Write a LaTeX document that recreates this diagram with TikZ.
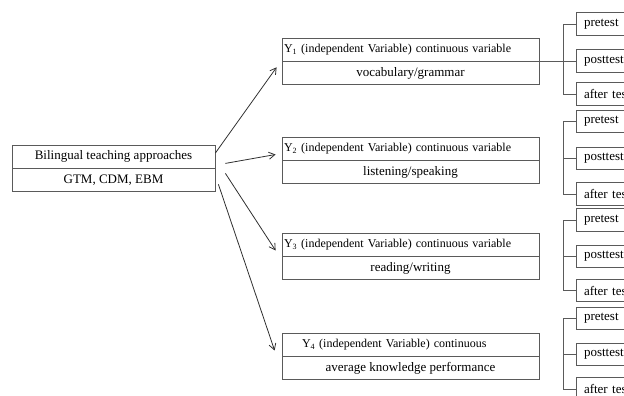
\documentclass[tikz,border=0pt]{standalone}
\usepackage{fontspec}
\setmainfont{Liberation Serif}
\usetikzlibrary{positioning,arrows.meta}
\definecolor{boxgray}{HTML}{5A5A5A}
\definecolor{arrowgray}{HTML}{303030}
\tikzset{
  part/.style={draw=boxgray, line width=0.8pt, inner sep=0pt, minimum height=23pt,
    font=\fontsize{13}{15}\selectfont},
  lpart/.style={part, minimum width=203pt},
  ypart/.style={part, minimum width=257pt},
  yhead/.style={ypart, text width=253pt, inner xsep=2pt, align=left,
    font=\fontsize{12}{14}\selectfont},
  testbox/.style={part, text width=54pt, inner xsep=8pt, align=left, minimum height=22.5pt},
  arr/.style={-{Straight Barb[length=6pt,width=7pt]}, line width=0.8pt, draw=arrowgray},
  brace/.style={draw=boxgray, line width=0.8pt},
}
\begin{document}
\begin{tikzpicture}[x=1pt, y=-1pt]
        \useasboundingbox (0,0) rectangle (624,396);
        \clip (0,0) rectangle (624,396);
        % the approaches box
        \node[lpart] (lbtop) at (113.5,156.5) {Bilingual teaching approaches};
        \node[lpart, below=0pt of lbtop] (lbbot) {GTM, CDM, EBM};
        % the variable boxes
        \node[yhead] (y1a) at (410.5,49.5) {Y\textsubscript{1} (independent Variable) continuous variable};
        \node[ypart, below=0pt of y1a] (y1b) {vocabulary/grammar};
        \node[yhead] (y2a) at (410.5,148.5) {Y\textsubscript{2} (independent Variable) continuous variable};
        \node[ypart, below=0pt of y2a] (y2b) {listening/speaking};
        \node[yhead] (y3a) at (410.5,244.5) {Y\textsubscript{3} (independent Variable) continuous variable};
        \node[ypart, below=0pt of y3a] (y3b) {reading/writing};
        \node[yhead, text width=217pt, inner xsep=20pt] (y4a) at (410.5,344.5) {Y\textsubscript{4} (independent Variable) continuous};
        \node[ypart, below=0pt of y4a] (y4b) {average knowledge performance};
        % the test boxes
        \node[testbox] (t1a) at (611,24)    {pretest};
        \node[testbox] (t1b) at (611,61)    {posttest};
        \node[testbox] (t1c) at (611,94)    {after test};
        \node[testbox] (t2a) at (611,121.5) {pretest};
        \node[testbox] (t2b) at (611,158.5) {posttest};
        \node[testbox] (t2c) at (611,194)   {after test};
        \node[testbox] (t3a) at (611,220)   {pretest};
        \node[testbox] (t3b) at (611,256.5) {posttest};
        \node[testbox] (t3c) at (611,290.5) {after test};
        \node[testbox] (t4a) at (611,318.5) {pretest};
        \node[testbox] (t4b) at (611,354.5) {posttest};
        \node[testbox] (t4c) at (611,389)   {after test};
        % the brackets
        \foreach \g in {1,2,3,4}{
          \coordinate (k\g) at ([xshift=-12pt]t\g b.west);
          \draw[brace] (t\g a.west) -| (k\g) |- (t\g c.west);
          \draw[brace] (k\g) -- (t\g b.west);
        }
        \draw[brace] (y1a.south east) -- (y1a.south east -| k1);
        % the arrows
        \draw[arr] ([yshift=3.5pt]lbtop.east)            -- ([xshift=-5pt,yshift=6pt]y1b.west);
        \draw[arr] ([xshift=10pt,yshift=5pt]lbtop.south east) -- ([xshift=-6pt,yshift=-6pt]y2a.west);
        \draw[arr] ([xshift=10pt,yshift=-5pt]lbbot.north east) -- ([xshift=-6pt,yshift=-6pt]y3a.west);
        \draw[arr] ([xshift=3pt,yshift=-4pt]lbbot.east)   -- ([xshift=-7pt,yshift=-6pt]y4a.west);
\end{tikzpicture}
\end{document}
